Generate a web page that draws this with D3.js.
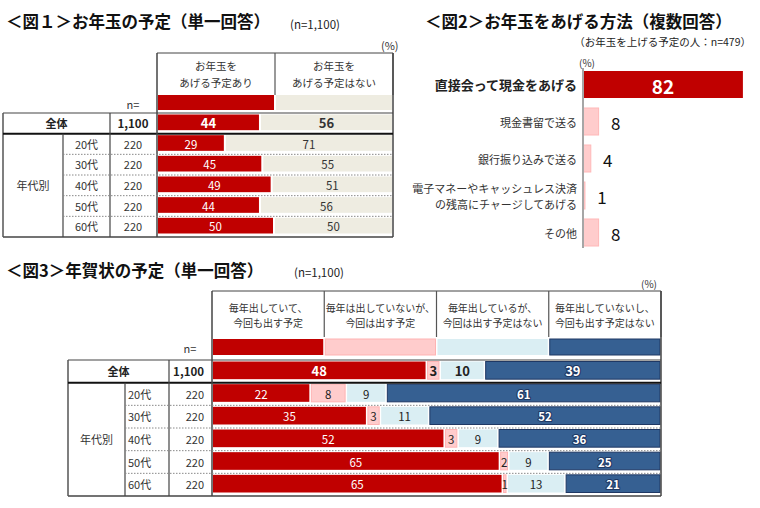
<!DOCTYPE html>
<html><head><meta charset="utf-8">
<script src="https://cdn.jsdelivr.net/npm/d3@7"></script>
<style>body{margin:0;background:#fff} text{font-family:"Noto Sans CJK JP","Noto Sans",sans-serif}</style>
</head><body><svg id="c" width="760" height="508"></svg>
<script>
// ---------- DATA ----------
const fig1Title = "＜図１＞お年玉の予定（単一回答）";
const fig1Note = "(n=1,100)";
const fig1Rows = ["全体","20代","30代","40代","50代","60代"];
const fig1N = ["1,100","220","220","220","220","220"];
const fig1Keys = ["yes","no"];
const fig1Headers = [["お年玉を","あげる予定あり"],["お年玉を","あげる予定はない"]];
const fig1Yes = [44,29,45,49,44,50];
const fig1No = [56,71,55,51,56,50];

const fig2Title = "＜図2＞お年玉をあげる方法（複数回答）";
const fig2Note = "（お年玉を上げる予定の人：n=479）";
const fig2Categories = [["直接会って現金をあげる"],["現金書留で送る"],["銀行振り込みで送る"],["電子マネーやキャッシュレス決済","の残高にチャージしてあげる"],["その他"]];
const fig2Values = [82,8,4,1,8];

const fig3Title = "＜図3＞年賀状の予定（単一回答）";
const fig3Note = "(n=1,100)";
const fig3Rows = ["全体","20代","30代","40代","50代","60代"];
const fig3N = ["1,100","220","220","220","220","220"];
const fig3Keys = ["s1","s2","s3","s4"];
const fig3Headers = [["毎年出していて、","今回も出す予定"],["毎年は出していないが、","今回は出す予定"],["毎年出しているが、","今回は出す予定はない"],["毎年出していないし、","今回も出す予定はない"]];
const fig3S1 = [48,22,35,52,65,65];
const fig3S2 = [3,8,3,3,2,1];
const fig3S3 = [10,9,11,9,9,13];
const fig3S4 = [39,61,52,36,25,21];

const groupLabel = "年代別";
const nLabel = "n=";
const pctLabel = "(%)";

// ---------- HELPERS ----------
const svg = d3.select("#c");
function txt(g, x, y, s, o = {}) {
  const t = g.append("text").attr("x", x).attr("y", y).text(s)
    .attr("font-size", o.size || 11)
    .attr("font-weight", o.bold ? "bold" : "normal")
    .attr("text-anchor", o.anchor || "start")
    .attr("fill", o.fill || "#333")
    .attr("dominant-baseline", "central");
  if (o.stroke) t.attr("stroke", o.stroke).attr("stroke-width", o.sw || 2.5).attr("paint-order", "stroke").attr("stroke-linejoin", "round");
  return t;
}
function ln(g, x1, y1, x2, y2, o = {}) {
  const l = g.append("line").attr("x1", x1).attr("y1", y1).attr("x2", x2).attr("y2", y2)
    .attr("stroke", o.stroke || "#555").attr("stroke-width", o.w || 1);
  if (o.dash) l.attr("stroke-dasharray", o.dash);
  return l;
}

function stackedTable(o) {
  const g = svg.append("g");
  const data = o.rows.map((r, i) => { const d = { row: r, n: o.n[i] }; o.keys.forEach((k, j) => d[k] = o.series[j][i]); return d; });
  const layers = d3.stack().keys(o.keys).offset(d3.stackOffsetExpand)(data);
  const x = d3.scaleLinear([0, 1], [o.x0, o.x1]);
  const y = d3.scaleBand(o.rows, [o.top, o.bottom]);
  const hx = d3.scaleBand(o.keys, [o.c.bar, o.c.end]);
  const color = d3.scaleOrdinal(o.keys, o.colors);
  const lcolor = d3.scaleOrdinal(o.keys, o.labelColors);
  const bw = y.bandwidth();

  // header
  o.keys.forEach((k, j) => {
    const cx = hx(k) + hx.bandwidth() / 2;
    o.headers[j].forEach((line, li) => txt(g, cx, o.headerLineY[li], line, { size: o.headerSize, anchor: "middle", fill: "#333" }));
    g.append("rect").attr("x", hx(k) + 1).attr("y", o.swatchTop).attr("width", hx.bandwidth() - 2).attr("height", o.swatchBottom - o.swatchTop)
      .attr("fill", color(k)).attr("stroke", o.strokes[j]).attr("stroke-width", o.strokes[j] === "none" ? 0 : 1);
  });
  ln(g, o.c.bar, o.headerTop, o.c.end, o.headerTop, { stroke: "#444" });
  o.keys.forEach(k => ln(g, hx(k) + hx.bandwidth(), o.headerTop, hx(k) + hx.bandwidth(), o.headerBottom, { stroke: "#555", w: 1.2 }));
  txt(g, o.nLabelX, (o.swatchTop + o.swatchBottom) / 2 + 1, nLabel, { size: 11, anchor: "middle" });

  // bars
  layers.forEach((layer, j) => {
    const k = layer.key;
    layer.forEach((seg, i) => {
      const d = seg.data;
      const x0 = x(seg[0]), x1 = x(seg[1]) - (j < o.keys.length - 1 ? 2 : 0);
      const yy = y(d.row) + o.padTop, hh = bw - o.padTop - o.padBot;
      g.append("rect").attr("x", x0).attr("y", yy).attr("width", Math.max(0, x1 - x0)).attr("height", hh)
        .attr("fill", color(k)).attr("stroke", o.strokes[j]).attr("stroke-width", o.strokes[j] === "none" ? 0 : 1);
      const first = i === 0;
      const lo = { size: first ? 13 : 11.5, bold: first || o.boldKeys.includes(k), anchor: "middle", fill: lcolor(k) };
      if (o.outlineKeys.includes(k)) { lo.stroke = "#1F3864"; lo.sw = 2.2; lo.bold = true; }
      txt(g, (x0 + x1) / 2, yy + hh / 2 + 0.5, d[k], lo);
    });
  });

  // table grid
  const c = o.c, top = o.top, bot = o.bottom, r0b = y(o.rows[0]) + y.step();
  ln(g, c.outer, top, c.end, top, { stroke: "#444", w: 1.2 });
  ln(g, c.outer, bot, c.end, bot, { stroke: "#444", w: 1.5 });
  ln(g, c.outer, top, c.outer, bot, { stroke: "#555", w: 1.5 });
  ln(g, c.end, o.rightTop, c.end, bot, { stroke: "#444", w: 1.5 });
  ln(g, c.outer, r0b, c.end, r0b, { stroke: "#111", w: 2 });
  ln(g, c.age, r0b, c.age, bot, { stroke: "#444", w: 1.2 });
  ln(g, c.n, top, c.n, bot, { stroke: "#444", w: 1.2 });
  ln(g, c.bar, o.headerTop, c.bar, bot, { stroke: "#444", w: 1.5 });
  o.rows.slice(2).forEach(r => ln(g, c.age, y(r), c.end, y(r), { stroke: "#888", w: 1, dash: "1.5,1.5" }));

  // row labels
  data.forEach((d, i) => {
    const cy = y(d.row) + bw / 2 - 0.5;
    if (i === 0) {
      txt(g, (c.outer + c.n) / 2, cy, d.row, { size: 11, bold: true, anchor: "middle", fill: "#222" });
      txt(g, o.nX, cy, d.n, { size: 11.5, bold: true, anchor: o.nAnchor, fill: "#222" });
    } else {
      txt(g, o.ageAnchor === "start" ? c.age + 3 : (c.age + c.n) / 2, cy, d.row, { size: 11, anchor: o.ageAnchor });
      txt(g, o.nX, cy, d.n, { size: 11, anchor: o.nAnchor });
    }
  });
  txt(g, (c.outer + c.age) / 2, (r0b + bot) / 2, groupLabel, { size: 11, anchor: "middle" });
}

// ---------- FIGURE 1 ----------
txt(svg, 6, 21, fig1Title, { size: 16.5, bold: true, fill: "#111" });
txt(svg, 290, 24, fig1Note, { size: 11.5, fill: "#222" });
txt(svg, 381, 45, pctLabel, { size: 11, fill: "#333" });
stackedTable({
  rows: fig1Rows, n: fig1N, keys: fig1Keys, series: [fig1Yes, fig1No], headers: fig1Headers,
  colors: ["#C00000", "#EEECE1"], strokes: ["none", "none"], labelColors: ["#fff", "#333"],
  boldKeys: [], outlineKeys: [],
  x0: 158, x1: 392, top: 113, bottom: 237, padTop: 1.5, padBot: 3.5,
  headerTop: 53, headerBottom: 95, headerLineY: [65, 82], headerSize: 10.5,
  swatchTop: 95, swatchBottom: 110, rightTop: 53, nLabelX: 133,
  c: { outer: 3, age: 63, n: 110, bar: 157, end: 393 },
  nX: 133, nAnchor: "middle", ageAnchor: "middle"
});

// ---------- FIGURE 2 ----------
(function () {
  const g = svg.append("g");
  txt(g, 425, 21, fig2Title, { size: 16.5, bold: true, fill: "#111" });
  txt(g, 751, 41, fig2Note, { size: 10.5, anchor: "end", fill: "#222" });
  txt(g, 587, 62, pctLabel, { size: 10, anchor: "middle", fill: "#333" });
  const idx = fig2Values.map((_, i) => i);
  const y = d3.scaleBand(idx, [66, 251]).paddingInner(0.27).paddingOuter(0.135);
  const x = d3.scaleLinear([0, 100], [583, 778]);
  idx.forEach(i => {
    const v = fig2Values[i];
    const first = i === 0;
    g.append("rect").attr("x", x(0)).attr("y", y(i)).attr("width", x(v) - x(0)).attr("height", y.bandwidth())
      .attr("fill", first ? "#C00000" : "#FFCCCC").attr("stroke", first ? "none" : "#FFB8B8").attr("stroke-width", first ? 0 : 1);
    const cy = y(i) + y.bandwidth() / 2;
    if (first) txt(g, (x(0) + x(v)) / 2, cy + 0.5, v, { size: 19, bold: true, anchor: "middle", fill: "#fff" });
    else txt(g, x(v) + 17, cy + 0.5, v, { size: 17, anchor: "middle", fill: "#111" });
    const lines = fig2Categories[i];
    lines.forEach((s, li) => {
      const off = (li - (lines.length - 1) / 2) * 16;
      txt(g, 577, cy + off, s, first ? { size: 13, bold: true, anchor: "end", fill: "#222" } : { size: 11, anchor: "end", fill: "#333" });
    });
  });
  ln(g, x(0), 68, x(0), 248, { stroke: "#A6A6A6", w: 2 });
})();

// ---------- FIGURE 3 ----------
txt(svg, 6, 270, fig3Title, { size: 16.5, bold: true, fill: "#111" });
txt(svg, 294, 272, fig3Note, { size: 11.5, fill: "#222" });
txt(svg, 641, 283, pctLabel, { size: 10, fill: "#333" });
stackedTable({
  rows: fig3Rows, n: fig3N, keys: fig3Keys, series: [fig3S1, fig3S2, fig3S3, fig3S4], headers: fig3Headers,
  colors: ["#C00000", "#FFCCCC", "#DAEEF3", "#366092"], strokes: ["none", "#FFB3B3", "none", "#1F3864"],
  labelColors: ["#fff", "#222", "#222", "#fff"],
  boldKeys: [], outlineKeys: ["s4"],
  x0: 213, x1: 660, top: 360, bottom: 496, padTop: 1.5, padBot: 3.5,
  headerTop: 291, headerBottom: 337, headerLineY: [307, 322], headerSize: 10,
  swatchTop: 339, swatchBottom: 355, rightTop: 291, nLabelX: 190,
  c: { outer: 68, age: 125, n: 169, bar: 212, end: 661 },
  nX: 204, nAnchor: "end", ageAnchor: "start"
});
</script></body></html>
